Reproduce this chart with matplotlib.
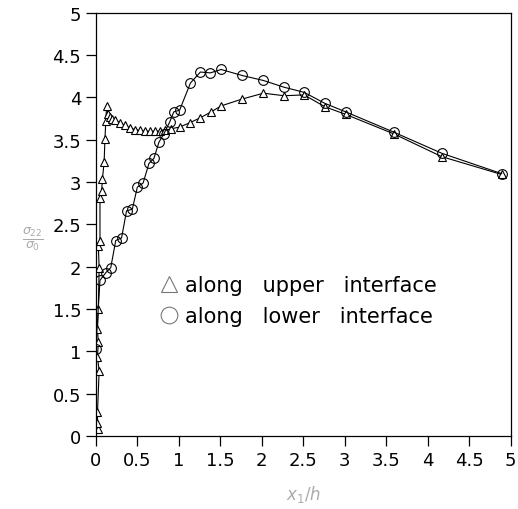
import numpy as np
import matplotlib
matplotlib.use("Agg")
import matplotlib.pyplot as plt
from matplotlib.lines import Line2D

# upper interface (triangles)
x_upper = [0.03, 0.02, 0.02, 0.04, 0.02, 0.03, 0.02, 0.03, 0.04, 0.03, 0.05, 0.05,
           0.07, 0.08, 0.10, 0.11, 0.12, 0.13, 0.15, 0.17, 0.20, 0.23, 0.29, 0.35,
           0.41, 0.47, 0.53, 0.59, 0.65, 0.71, 0.77, 0.83, 0.91, 1.01, 1.13, 1.26,
           1.39, 1.51, 1.76, 2.02, 2.27, 2.51, 2.76, 3.01, 3.59, 4.17, 4.89]
y_upper = [0.08, 0.16, 0.28, 0.77, 0.93, 1.11, 1.26, 1.50, 1.99, 2.25, 2.31, 2.81,
           2.90, 3.04, 3.24, 3.51, 3.72, 3.90, 3.80, 3.77, 3.75, 3.73, 3.70, 3.67,
           3.64, 3.62, 3.61, 3.60, 3.60, 3.60, 3.60, 3.61, 3.63, 3.65, 3.70, 3.76,
           3.83, 3.90, 3.98, 4.05, 4.02, 4.03, 3.89, 3.80, 3.57, 3.30, 3.09]

# lower interface (circles)
x_lower = [0.00, 0.05, 0.12, 0.18, 0.24, 0.31, 0.37, 0.44, 0.50, 0.57, 0.64, 0.70,
           0.76, 0.82, 0.89, 0.94, 1.01, 1.14, 1.26, 1.38, 1.51, 1.76, 2.02, 2.27,
           2.51, 2.76, 3.01, 3.59, 4.17, 4.89]
y_lower = [1.03, 1.84, 1.93, 1.99, 2.31, 2.34, 2.66, 2.68, 2.94, 2.99, 3.22, 3.28,
           3.47, 3.57, 3.71, 3.83, 3.85, 4.17, 4.30, 4.29, 4.33, 4.26, 4.20, 4.12,
           4.06, 3.93, 3.83, 3.59, 3.34, 3.10]

xticks = [0, 0.5, 1, 1.5, 2, 2.5, 3, 3.5, 4, 4.5, 5]
yticks = [0, 0.5, 1, 1.5, 2, 2.5, 3, 3.5, 4, 4.5, 5]

plt.rcParams['font.family'] = ['DejaVu Sans']

fig = plt.figure(figsize=(5.18, 5.10), dpi=100)
ax = fig.add_axes([0.185, 0.143, 0.801, 0.830])

ax.plot(x_upper, y_upper, color='black', lw=0.8, marker='^', ms=5.5,
        mfc='white', mec='black', mew=0.8)
ax.plot(x_lower, y_lower, color='black', lw=0.8, marker='o', ms=7,
        mfc='none', mec='black', mew=0.8)

ax.set_xlim(0, 5)
ax.set_ylim(0, 5)
ax.set_xticks(xticks)
ax.set_yticks(yticks)
ax.set_xticklabels([f"{t:g}" for t in xticks])
ax.set_yticklabels([f"{t:g}" for t in yticks])
ax.tick_params(direction='out', length=7, width=0.9, labelsize=13,
               top=False, right=False)
for s in ax.spines.values():
    s.set_linewidth(0.9)

ax.set_xlabel(r'$x_1/h$', fontsize=12, color='#aaaaaa', labelpad=10)
ax.set_ylabel(r'$\frac{\sigma_{22}}{\sigma_0}$', fontsize=13, color='#aaaaaa',
              rotation=0, labelpad=14, va='top')

handles = [
    Line2D([], [], ls='none', marker='^', ms=12, mfc='white', mec='#777777', mew=0.8),
    Line2D([], [], ls='none', marker='o', ms=12, mfc='white', mec='#777777', mew=0.8),
]
ax.legend(handles, ['along   upper   interface', 'along   lower   interface'],
          loc='upper left', bbox_to_anchor=(0.11, 0.425), frameon=False,
          fontsize=15, handlelength=0.8, handletextpad=0.4, labelspacing=0.55)

fig.savefig('out.png', dpi=100, facecolor='white')
